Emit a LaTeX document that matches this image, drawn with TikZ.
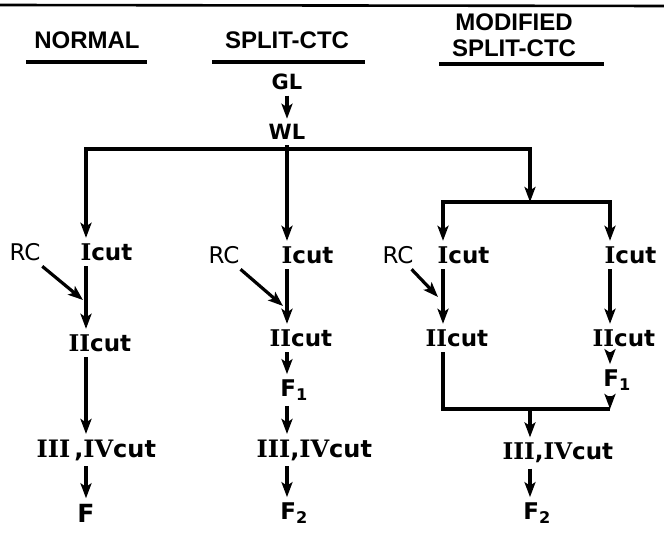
\documentclass[tikz,border=0pt]{standalone}
\usepackage{fontspec}
\setmainfont{DejaVu Sans}
\newfontfamily\numfont{DejaVu Serif}
\newfontfamily\headfont{Liberation Sans}
\newcommand{\rn}[1]{{\numfont #1}}
\usetikzlibrary{arrows.meta}

\begin{document}
\begin{tikzpicture}[
  x=1pt, y=-1pt,
  line width=3.2pt,
  every node/.style={inner sep=4pt},
  head/.style={font=\headfont\bfseries\fontsize{24}{26}\selectfont, align=center},
  lbl/.style={font=\bfseries\fontsize{23}{24}\selectfont},
  cut/.style={lbl, anchor=west},
  src/.style={font=\bfseries\fontsize{21}{22}\selectfont},
  rc/.style={font=\fontsize{23}{24}\selectfont},
  ln/.style={line join=miter},
  arr/.style={-{Stealth[length=15pt,width=11pt,inset=3.5pt]}, line join=miter}
]
\useasboundingbox (0,0) rectangle (664,534);
\draw[line width=2.6pt] (0,5) -- (664,6);

\node[head] (hnorm) at (87,40) {NORMAL};
\node[head] (hsplit) at (287,40) {SPLIT-CTC};
\node[head] (hmod) at (514,35) {MODIFIED\\SPLIT-CTC};
\draw (26,62) -- (147,62);
\draw (212,62) -- (365,62);
\draw (439,64) -- (604,64);

\node[src] (gl) at (287,82) {GL};
\node[src] (wl) at (287,132) {WL};

\coordinate (b1) at (86,149);
\coordinate (b2) at (287,149);
\coordinate (b3) at (530,149);
\coordinate (t3) at (530,202);
\coordinate (t3l) at (443,202);
\coordinate (t3r) at (610,202);
\coordinate (u3) at (530,409);
\coordinate (u3l) at (443,409);
\coordinate (u3r) at (610,409);
\coordinate (m1) at (83,300);
\coordinate (m2) at (283,306);
\coordinate (m3) at (438,297);

\node[cut] (i1) at (75,252) {\rn{I}cut};
\node[rc] (rc1) at (25,252) {RC};
\node[cut] (ii1) at (63,343) {\rn{II}cut};
\node[cut, font=\bfseries\fontsize{24}{25}\selectfont] (iii1) at (31,450) {\rn{III}\,,\rn{IV}cut};
\node[lbl, font=\bfseries\fontsize{25}{26}\selectfont] (f1) at (86,513) {F};

\node[cut] (i2) at (276,255) {\rn{I}cut};
\node[rc] (rc2) at (224,255) {RC};
\node[cut] (ii2) at (264,338) {\rn{II}cut};
\node[lbl] (f21) at (294,390) {F\textsubscript{1}};
\node[cut, font=\bfseries\fontsize{24}{25}\selectfont] (iii2) at (251,450) {\rn{III},\rn{IV}cut};
\node[lbl] (f22) at (294,513) {F\textsubscript{2}};

\node[cut] (i3l) at (432,255) {\rn{I}cut};
\node[cut] (i3r) at (599,255) {\rn{I}cut};
\node[rc] (rc3) at (398,255) {RC};
\node[cut] (ii3l) at (420,338) {\rn{II}cut};
\node[cut] (ii3r) at (587,338) {\rn{II}cut};
\node[lbl] (f31) at (617,380) {F\textsubscript{1}};
\node[cut, font=\bfseries\fontsize{23}{24}\selectfont] (iii3) at (497,453) {\rn{III},\rn{IV}cut};
\node[lbl] (f32) at (537,513) {F\textsubscript{2}};

\draw[arr] (gl) -- (wl);
\draw[arr] (wl) -- (b2) -- (i2.north -| b2);
\draw[arr] (b2) -- (b1) -- (i1.north -| b1);
\draw[arr] (b2) -- (b3) -- (t3);
\draw[arr] (t3) -- (t3l) -- (i3l.north -| t3l);
\draw[arr] (t3) -- (t3r) -- (i3r.north -| t3r);

\draw[arr] (i1.south -| b1) -- (ii1.north -| b1);
\draw[arr] (rc1) -- (m1);
\draw[arr] (ii1.south -| b1) -- (iii1.north -| b1);
\draw[arr] (iii1.south -| b1) -- (f1);

\draw[arr] (i2.south -| b2) -- (ii2.north -| b2);
\draw[arr] (rc2) -- (m2);
\draw[arr] (ii2.south -| b2) -- (f21.north -| b2);
\draw[arr] (f21.south -| b2) -- (iii2.north -| b2);
\draw[arr] (iii2.south -| b2) -- (f22.north -| b2);

\draw[arr] (i3l.south -| t3l) -- (ii3l.north -| t3l);
\draw[arr] (rc3) -- (m3);
\draw[arr] (i3r.south -| t3r) -- (ii3r.north -| t3r);
\draw[ln] (ii3l.south -| u3l) -- (u3l) -- (u3r);
\draw[arr] (ii3r.south -| u3r) -- (f31.north -| u3r);
\draw[arr] (f31.south -| u3r) -- (u3r);
\draw[arr] (u3) -- (iii3.north -| u3);
\draw[arr] (iii3.south -| u3) -- (f32.north -| u3);
\end{tikzpicture}
\end{document}
